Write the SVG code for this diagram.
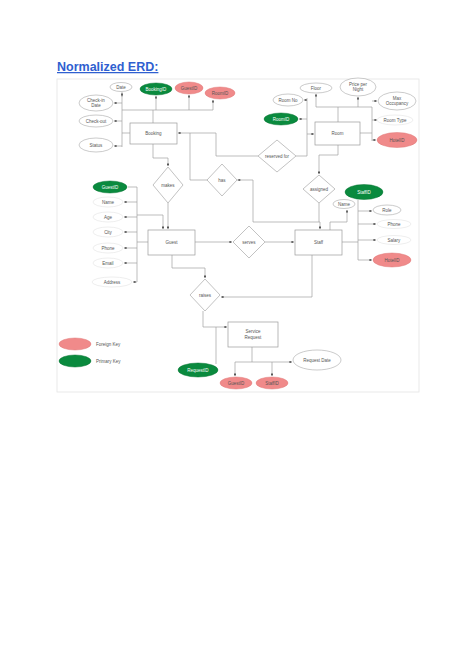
<svg xmlns="http://www.w3.org/2000/svg" width="474" height="670" viewBox="0 0 474 670">
<style>
.bg{fill:#ffffff}
.frame{fill:none;stroke:#e4e4e4;stroke-width:0.8}
.title{font-family:"Liberation Sans",Arial,sans-serif;font-size:12.5px;font-weight:bold;fill:#2f5fd0;text-decoration:underline}
.ent{fill:#ffffff;stroke:#9a9a9a;stroke-width:0.7}
.rel{fill:#ffffff;stroke:#a8a8a8;stroke-width:0.7}
.att{fill:#ffffff;stroke:#a8a8a8;stroke-width:0.6}
.faint{fill:#ffffff;stroke:#dcdcdc;stroke-width:0.5}
.pk{fill:#0a8a3e;stroke:#067533;stroke-width:0.5}
.fk{fill:#f08a8a;stroke:#e07878;stroke-width:0.5}
.t{font-family:"Liberation Sans",Arial,sans-serif;font-size:4.5px;fill:#555;text-anchor:middle}
.tl{font-family:"Liberation Sans",Arial,sans-serif;font-size:4.5px;fill:#555}
.tw{font-family:"Liberation Sans",Arial,sans-serif;font-size:4.5px;fill:#ffffff;text-anchor:middle}
.c{fill:none;stroke:#a0a0a0;stroke-width:0.7}
</style>
<defs>
<marker id="ah" viewBox="0 0 6 6" refX="5.5" refY="3" markerWidth="4" markerHeight="4" orient="auto">
<path d="M0,0 L6,3 L0,6 Z" fill="#555"/>
</marker>
</defs>
<rect class="bg" x="0" y="0" width="474" height="670"/>
<rect class="frame" x="57" y="79" width="362" height="313"/>
<text class="title" x="57" y="71">Normalized ERD:</text>

<g id="connectors">
<!-- E1 attributes -->
<path class="c" d="M122,92 V147"/>
<path class="c" d="M122,110 H213"/>
<path class="c" d="M122,97 V93" marker-end="url(#ah)"/>
<path class="c" d="M156,110 V96" marker-end="url(#ah)"/>
<path class="c" d="M189,110 V95" marker-end="url(#ah)"/>
<path class="c" d="M213,110 V100" marker-end="url(#ah)"/>
<path class="c" d="M153,123 V110"/>
<path class="c" d="M122,103 H114" marker-end="url(#ah)"/>
<path class="c" d="M122,121 H114" marker-end="url(#ah)"/>
<path class="c" d="M122,146 H114" marker-end="url(#ah)"/>
<path class="c" d="M130,133 H122"/>
<!-- relations -->
<path class="c" d="M153,144 V158 H168 V166" marker-end="url(#ah)"/>
<path class="c" d="M168,203 V229" marker-end="url(#ah)"/>
<path class="c" d="M258,156 H216 V133 H178" marker-end="url(#ah)"/>
<path class="c" d="M208,180 H190 V133"/>
<path class="c" d="M237,180 H241" marker-end="url(#ah)"/>
<path class="c" d="M241,180 H253 V222 H320 V229" marker-end="url(#ah)"/>
<path class="c" d="M296,156 H307 V134 H314" marker-end="url(#ah)"/>
<path class="c" d="M338,145 V155 H319 V174" marker-end="url(#ah)"/>
<path class="c" d="M319,203 V222"/>
<path class="c" d="M195,242 H232" marker-end="url(#ah)"/>
<path class="c" d="M265,242 H294" marker-end="url(#ah)"/>
<path class="c" d="M172,255 V268 H205 V278" marker-end="url(#ah)"/>
<path class="c" d="M312,255 V297 H221" marker-end="url(#ah)"/>
<path class="c" d="M203,311 V327 H227" marker-end="url(#ah)"/>
<!-- E2 attributes -->
<path class="c" d="M316,107 H372 V141"/>
<path class="c" d="M316,107 V94" marker-end="url(#ah)"/>
<path class="c" d="M358,107 V97" marker-end="url(#ah)"/>
<path class="c" d="M338,122 V107"/>
<path class="c" d="M360,133 H372"/>
<path class="c" d="M372,101 H377" marker-end="url(#ah)"/>
<path class="c" d="M372,120 H377" marker-end="url(#ah)"/>
<path class="c" d="M372,140 H376" marker-end="url(#ah)"/>
<path class="c" d="M307,98 V134"/>
<path class="c" d="M307,100 H304" marker-end="url(#ah)"/>
<path class="c" d="M307,119 H299" marker-end="url(#ah)"/>
<!-- E3 attributes -->
<path class="c" d="M137,187 V282"/>
<path class="c" d="M137,187 H128"/>
<path class="c" d="M137,202 H124" marker-end="url(#ah)"/>
<path class="c" d="M137,217 H124" marker-end="url(#ah)"/>
<path class="c" d="M137,232 H124" marker-end="url(#ah)"/>
<path class="c" d="M137,248 H124" marker-end="url(#ah)"/>
<path class="c" d="M137,263 H124" marker-end="url(#ah)"/>
<path class="c" d="M137,282 H133" marker-end="url(#ah)"/>
<path class="c" d="M148,242 H137"/>
<path class="c" d="M137,215 H163 V229" marker-end="url(#ah)"/>
<!-- E4 attributes -->
<path class="c" d="M330,230 V222 H347 V210" marker-end="url(#ah)"/>
<path class="c" d="M358,200 V260"/>
<path class="c" d="M342,242 H358"/>
<path class="c" d="M358,211 H372" marker-end="url(#ah)"/>
<path class="c" d="M358,224 H376" marker-end="url(#ah)"/>
<path class="c" d="M358,240 H376" marker-end="url(#ah)"/>
<path class="c" d="M358,260 H372" marker-end="url(#ah)"/>
<!-- E5 attributes -->
<path class="c" d="M216,327 V364"/>
<path class="c" d="M252,347 V362"/>
<path class="c" d="M235,362 H292" marker-end="url(#ah)"/>
<path class="c" d="M235,362 V376" marker-end="url(#ah)"/>
<path class="c" d="M272,362 V376" marker-end="url(#ah)"/>
</g>

<g id="e1">
<rect class="ent" x="130" y="123" width="47" height="21"/>
<text class="t" x="153.5" y="135">Booking</text>
</g>
<g id="e1-a1"><ellipse class="att" cx="121" cy="87" rx="11" ry="4.5"/><text class="t" x="121" y="88.6">Date</text></g>
<g id="e1-pk"><ellipse class="pk" cx="156" cy="89" rx="16" ry="6"/><text class="tw" x="156" y="90.6">BookingID</text></g>
<g id="e1-fk1"><ellipse class="fk" cx="189" cy="88" rx="14" ry="6"/><text class="t" x="189" y="89.6">GuestID</text></g>
<g id="e1-fk2"><ellipse class="fk" cx="220" cy="93" rx="15" ry="6"/><text class="t" x="220" y="94.6">RoomID</text></g>
<g id="e1-a2"><ellipse class="att" cx="96" cy="103" rx="17" ry="8"/><text class="t" x="96" y="102">Check-in</text><text class="t" x="96" y="107">Date</text></g>
<g id="e1-a3"><ellipse class="att" cx="96" cy="121" rx="17" ry="6"/><text class="t" x="96" y="122.6">Check-out</text></g>
<g id="e1-a4"><ellipse class="att" cx="96" cy="145" rx="17" ry="7"/><text class="t" x="96" y="146.6">Status</text></g>

<g id="e2">
<rect class="ent" x="315" y="122" width="45" height="23"/>
<text class="t" x="337.5" y="135">Room</text>
</g>
<g id="e2-a1"><ellipse class="att" cx="316" cy="88" rx="16" ry="5"/><text class="t" x="316" y="89.6">Floor</text></g>
<g id="e2-a2"><ellipse class="att" cx="358" cy="87" rx="18" ry="9"/><text class="t" x="358" y="86">Price per</text><text class="t" x="358" y="91">Night</text></g>
<g id="e2-a3"><ellipse class="att" cx="397" cy="101" rx="19" ry="9"/><text class="t" x="397" y="100">Max</text><text class="t" x="397" y="105">Occupancy</text></g>
<g id="e2-a4"><ellipse class="att" cx="288" cy="100" rx="15" ry="6"/><text class="t" x="288" y="101.6">Room No</text></g>
<g id="e2-pk"><ellipse class="pk" cx="281" cy="119" rx="17" ry="6"/><text class="tw" x="281" y="120.6">RoomID</text></g>
<g id="e2-a5"><ellipse class="faint" cx="395" cy="120" rx="18" ry="5"/><text class="t" x="395" y="121.6">Room Type</text></g>
<g id="e2-fk"><ellipse class="fk" cx="397" cy="140" rx="20" ry="7.5"/><text class="t" x="397" y="141.6">HotelID</text></g>

<g id="e3">
<rect class="ent" x="148" y="230" width="47" height="25"/>
<text class="t" x="171.5" y="244">Guest</text>
</g>
<g id="e3-pk"><ellipse class="pk" cx="110" cy="187" rx="17" ry="6"/><text class="tw" x="110" y="188.6">GuestID</text></g>
<g id="e3-a1"><ellipse class="faint" cx="108" cy="202" rx="15" ry="5"/><text class="t" x="108" y="203.6">Name</text></g>
<g id="e3-a2"><ellipse class="faint" cx="108" cy="217" rx="15" ry="5"/><text class="t" x="108" y="218.6">Age</text></g>
<g id="e3-a3"><ellipse class="faint" cx="108" cy="232" rx="15" ry="5"/><text class="t" x="108" y="233.6">City</text></g>
<g id="e3-a4"><ellipse class="faint" cx="108" cy="248" rx="15" ry="5"/><text class="t" x="108" y="249.6">Phone</text></g>
<g id="e3-a5"><ellipse class="faint" cx="108" cy="263" rx="15" ry="5"/><text class="t" x="108" y="264.6">Email</text></g>
<g id="e3-a6"><ellipse class="faint" cx="112" cy="282" rx="20" ry="5"/><text class="t" x="112" y="283.6">Address</text></g>

<g id="e4">
<rect class="ent" x="295" y="230" width="47" height="25"/>
<text class="t" x="318.5" y="244">Staff</text>
</g>
<g id="e4-pk"><ellipse class="pk" cx="364" cy="192" rx="19" ry="7.5"/><text class="tw" x="364" y="193.6">StaffID</text></g>
<g id="e4-a1"><ellipse class="att" cx="344" cy="204" rx="11" ry="4.5"/><text class="t" x="344" y="205.6">Name</text></g>
<g id="e4-a2"><ellipse class="att" cx="387" cy="210" rx="14" ry="5"/><text class="t" x="387" y="211.6">Role</text></g>
<g id="e4-a3"><ellipse class="faint" cx="394" cy="224" rx="17" ry="4.5"/><text class="t" x="394" y="225.6">Phone</text></g>
<g id="e4-a4"><ellipse class="faint" cx="394" cy="240" rx="17" ry="4.5"/><text class="t" x="394" y="241.6">Salary</text></g>
<g id="e4-fk"><ellipse class="fk" cx="392" cy="260" rx="19" ry="7"/><text class="t" x="392" y="261.6">HotelID</text></g>

<g id="e5">
<rect class="ent" x="228" y="322" width="50" height="25"/>
<text class="t" x="253" y="333">Service</text>
<text class="t" x="253" y="338.5">Request</text>
</g>
<g id="e5-pk"><ellipse class="pk" cx="198" cy="370" rx="20" ry="7"/><text class="tw" x="198" y="371.6">RequestID</text></g>
<g id="e5-fk1"><ellipse class="fk" cx="236" cy="383" rx="16" ry="6"/><text class="t" x="236" y="384.6">GuestID</text></g>
<g id="e5-fk2"><ellipse class="fk" cx="272" cy="383" rx="16" ry="6"/><text class="t" x="272" y="384.6">StaffID</text></g>
<g id="e5-a1"><ellipse class="att" cx="317" cy="360" rx="24" ry="10"/><text class="t" x="317" y="361.6">Request Date</text></g>

<g id="d1"><path class="rel" d="M168,167 L183,185 L168,203 L153,185 Z"/><text class="t" x="168" y="186.6">makes</text></g>
<g id="d2"><path class="rel" d="M222,164 L237,180 L222,196 L207,180 Z"/><text class="t" x="222" y="181.6">has</text></g>
<g id="d3"><path class="rel" d="M277,140 L296,156 L277,172 L258,156 Z"/><text class="t" x="277" y="157.6">reserved for</text></g>
<g id="d4"><path class="rel" d="M319,175 L335,189 L319,203 L303,189 Z"/><text class="t" x="319" y="190.6">assigned</text></g>
<g id="d5"><path class="rel" d="M249,226 L265,242 L249,258 L233,242 Z"/><text class="t" x="249" y="243.6">serves</text></g>
<g id="d6"><path class="rel" d="M205,279 L220,295 L205,311 L190,295 Z"/><text class="t" x="205" y="296.6">raises</text></g>

<g id="legend">
<ellipse class="fk" cx="75" cy="344" rx="16" ry="6"/>
<text class="tl" x="96" y="345.6">Foreign Key</text>
<ellipse class="pk" cx="75" cy="361" rx="16" ry="6"/>
<text class="tl" x="96" y="362.6">Primary Key</text>
</g>
</svg>
